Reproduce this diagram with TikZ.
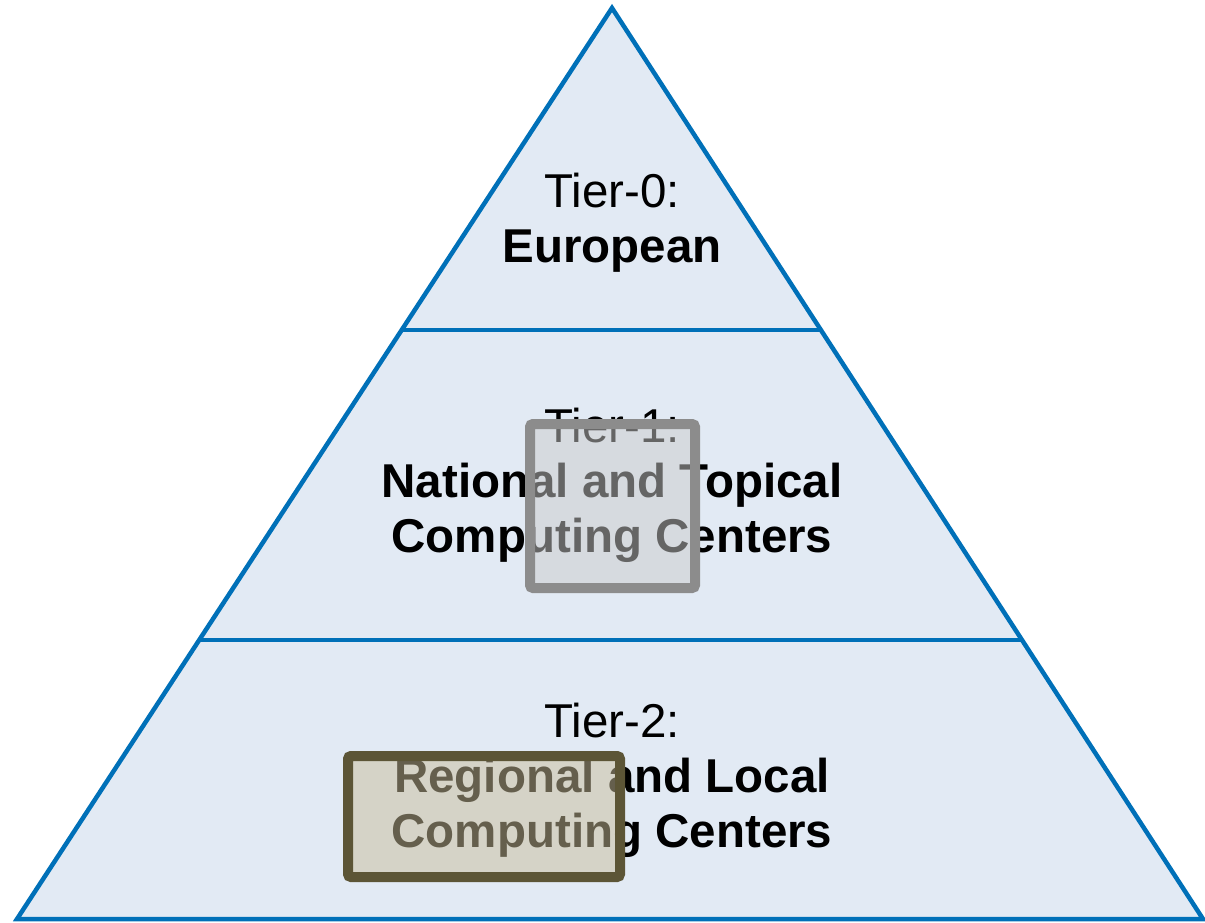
\documentclass[tikz,border=0pt]{standalone}
\usepackage{fontspec}
\setmainfont{Liberation Sans}
\definecolor{pyrblue}{RGB}{0,112,184}
\definecolor{pyrfill}{RGB}{226,234,244}
\definecolor{boxgray}{RGB}{140,140,140}
\definecolor{boxgrayfill}{RGB}{203,203,203}
\definecolor{boxolive}{RGB}{92,85,54}
\definecolor{boxolivefill}{RGB}{202,190,155}
\tikzset{
  pyr/.style={draw=pyrblue, line width=4.5pt, fill=pyrfill, line join=miter},
  tierline/.style={draw=pyrblue, line width=4.5pt},
  tiertext/.style={align=center, inner sep=0pt, anchor=base,
    font=\fontsize{47.5}{55}\selectfont},
  overbox/.style={line width=10pt, rounded corners=3pt, fill opacity=0.5},
}
\begin{document}
\begin{tikzpicture}[x=1pt,y=-1pt]
\useasboundingbox (0,0) rectangle (1205,922);
\coordinate (apex) at (612,8);
\coordinate (bl) at (17,919);
\coordinate (br) at (1203,919);
\coordinate (l1) at (402,330);
\coordinate (r1) at (821,330);
\coordinate (l2) at (200,640);
\coordinate (r2) at (1023,640);
\path[pyr] (apex) -- (br) -- (bl) -- cycle;
\draw[tierline] (l1) -- (r1);
\draw[tierline] (l2) -- (r2);
\node[tiertext] (t0) at (612,262) {Tier-0:\\\textbf{European}};
\node[tiertext] (t1) at (612,552) {Tier-1:\\\textbf{National and Topical}\\\textbf{Computing Centers}};
\node[tiertext] (t2) at (612,847) {Tier-2:\\\textbf{Regional and Local}\\\textbf{Computing Centers}};
\path[overbox, draw=boxgray, fill=boxgrayfill] (530,424) rectangle (695,588);
\path[overbox, draw=boxolive, fill=boxolivefill] (348,756) rectangle (620,877);
\end{tikzpicture}
\end{document}
